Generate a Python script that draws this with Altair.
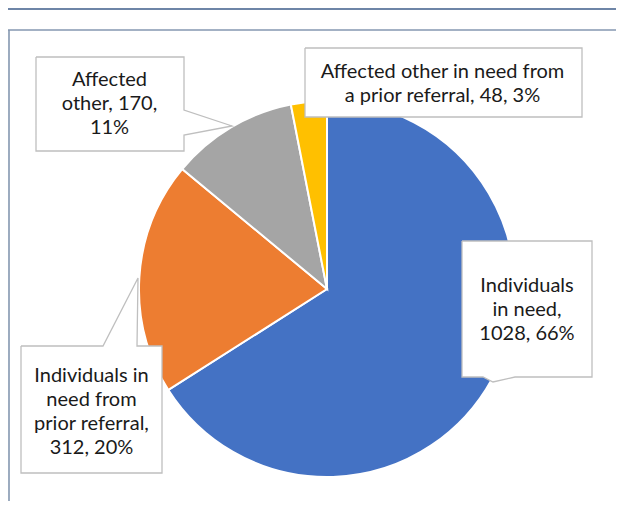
import altair as alt
import pandas as pd

# ---------------- data ----------------
categories = [
    "Individuals in need",
    "Individuals in need from prior referral",
    "Affected other",
    "Affected other in need from a prior referral",
]
values = [1028, 312, 170, 48]
colors = ["#4472C4", "#ED7D31", "#A5A5A5", "#FFC000"]
label_lines = [
    ["Individuals", "in need,", "1028, 66%"],
    ["Individuals in", "need from", "prior referral,", "312, 20%"],
    ["Affected", "other, 170,", "11%"],
    ["Affected other in need from", "a prior referral, 48, 3%"],
]

# ---------------- layout (page pixels) ----------------
M = 8  # page margin
W, H = 608, 493
CX, CY, R = 327, 289, 188
LH = 24
boxes = [
    dict(box=(462, 241, 592, 377), text=(527, 310),
         outline=[(462, 241), (592, 241), (592, 377), (515, 377), (493, 382), (483, 377), (462, 377), (462, 241)],
         tri=("h", [(377, 483, 515), (382, 493, 493)])),
    dict(box=(21, 346, 162, 473), text=(91.5, 412),
         outline=[(21, 346), (103, 346), (138, 278), (137, 346), (162, 346), (162, 473), (21, 473), (21, 346)],
         tri=("h", [(278, 138, 138), (346, 103, 137)])),
    dict(box=(36, 57, 184, 151), text=(109.5, 104),
         outline=[(36, 57), (184, 57), (184, 110), (232, 126), (184, 135), (184, 151), (36, 151), (36, 57)],
         tri=("v", [(184, 110, 135), (232, 126, 126)])),
    dict(box=(305, 48, 582, 117), text=(442.5, 83.5),
         outline=[(305, 48), (582, 48), (582, 117), (305, 117), (305, 48)],
         tri=None),
]

xs = alt.Scale(domain=[M, M + W], nice=False, zero=False)
ys = alt.Scale(domain=[M, M + H], reverse=True, nice=False, zero=False)

# ---------------- pie ----------------
pie_df = pd.DataFrame({"cat": categories, "val": values, "idx": range(len(values))})
pie = alt.Chart(pie_df).mark_arc(radius=R, stroke="white", strokeWidth=2).encode(
    theta=alt.Theta("val:Q", stack=True),
    order=alt.Order("idx:Q"),
    color=alt.Color("cat:N", scale=alt.Scale(domain=categories, range=colors), legend=None),
    x=alt.value(CX - M),
    y=alt.value(CY - M),
)

# ---------------- callouts ----------------
rect_rows, line_rows, text_rows, vtri_rows, htri_rows = [], [], [], [], []
for i, b in enumerate(boxes):
    x0, y0, x1, y1 = b["box"]
    rect_rows.append(dict(x=x0, x2=x1, y=y0, y2=y1))
    for j, (px, py) in enumerate(b["outline"]):
        line_rows.append(dict(id=i, o=j, x=px, y=py))
    n = len(label_lines[i])
    text_rows.append(dict(x=b["text"][0], y=b["text"][1] - (n - 1) * LH / 2,
                          t="\n".join(label_lines[i])))
    if b["tri"]:
        kind, pts = b["tri"]
        for p in pts:
            if kind == "v":
                vtri_rows.append(dict(id=i, x=p[0], y=p[1], y2=p[2]))
            else:
                htri_rows.append(dict(id=i, y=p[0], x=p[1], x2=p[2]))

rects = alt.Chart(pd.DataFrame(rect_rows)).mark_rect(fill="white").encode(
    x=alt.X("x:Q", scale=xs, axis=None), x2="x2:Q",
    y=alt.Y("y:Q", scale=ys, axis=None), y2="y2:Q",
)
vtri = alt.Chart(pd.DataFrame(vtri_rows)).mark_area(fill="white", orient="vertical").encode(
    x=alt.X("x:Q", scale=xs, axis=None),
    y=alt.Y("y:Q", scale=ys, axis=None), y2="y2:Q", detail="id:N",
)
htri = alt.Chart(pd.DataFrame(htri_rows)).mark_area(fill="white", orient="horizontal").encode(
    y=alt.Y("y:Q", scale=ys, axis=None),
    x=alt.X("x:Q", scale=xs, axis=None), x2="x2:Q", detail="id:N",
)
outlines = alt.Chart(pd.DataFrame(line_rows)).mark_line(color="#BFBFBF", strokeWidth=1.3).encode(
    x=alt.X("x:Q", scale=xs, axis=None),
    y=alt.Y("y:Q", scale=ys, axis=None),
    order=alt.Order("o:Q"), detail="id:N",
)
texts = alt.Chart(pd.DataFrame(text_rows)).mark_text(
    font="Lato", fontSize=20, lineBreak="\n", lineHeight=LH,
    align="center", baseline="middle", color="#1a1a1a",
).encode(
    x=alt.X("x:Q", scale=xs, axis=None),
    y=alt.Y("y:Q", scale=ys, axis=None),
    text="t:N",
)

# ---------------- frame ----------------
frame_df = pd.DataFrame([
    dict(x=M, x2=M + W, y=9, y2=9, c="#3E5C8A", w=1.6),
    dict(x=M, x2=M + W, y=30, y2=30, c="#8497B0", w=1.6),
    dict(x=9, x2=9, y=30, y2=M + H, c="#8497B0", w=1.6),
])
frame = alt.Chart(frame_df).mark_rule().encode(
    x=alt.X("x:Q", scale=xs, axis=None), x2="x2:Q",
    y=alt.Y("y:Q", scale=ys, axis=None), y2="y2:Q",
    color=alt.Color("c:N", scale=None),
    strokeWidth=alt.StrokeWidth("w:Q", scale=None),
)

chart = alt.layer(frame, pie, rects, vtri, htri, outlines, texts).properties(
    width=W, height=H, padding=0, autosize=alt.AutoSizeParams(type="none"),
    background="white",
).configure_view(stroke=None)

chart.save("out.html", embed_options={"renderer": "svg", "actions": False})
